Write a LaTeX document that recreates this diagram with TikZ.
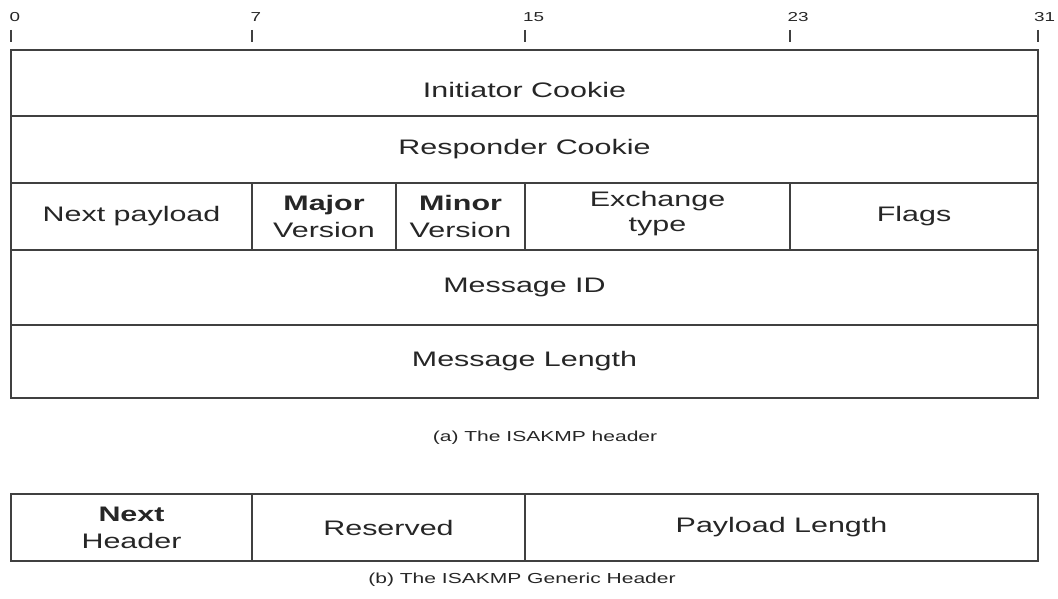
\documentclass[tikz,border=0pt]{standalone}
\usepackage{fontspec}
\setmainfont{Liberation Sans}[FakeStretch=1.45]
\begin{document}
\begin{tikzpicture}[x=1pt,y=-1pt,
  field/.style={draw=black!75, line width=1.4pt, rectangle, inner sep=0pt,
    text=black!85, font=\fontsize{21}{27}\selectfont, align=center},
  tickline/.style={draw=black!75, line width=1.2pt},
  bitlabel/.style={font=\fontsize{13}{15}\selectfont, text=black!85, inner sep=0pt, anchor=base west},
  captiontext/.style={font=\fontsize{14.5}{17}\selectfont, text=black!85, inner sep=0pt}]
\useasboundingbox (0,0) rectangle (1058,599);

% bit scale
\coordinate (t0a) at (11,30);   \coordinate (t0b) at (11,42);
\coordinate (t7a) at (252,30);  \coordinate (t7b) at (252,42);
\coordinate (t15a) at (525,30); \coordinate (t15b) at (525,42);
\coordinate (t23a) at (790,30); \coordinate (t23b) at (790,42);
\coordinate (t31a) at (1038,30);\coordinate (t31b) at (1038,42);
\foreach \t in {0,7,15,23,31} \draw[tickline] (t\t a) -- (t\t b);
\node[bitlabel] (l0) at (9.5,22) {0};
\node[bitlabel] (l7) at (250.5,22) {7};
\node[bitlabel] (l15) at (523,22) {15};
\node[bitlabel] (l23) at (787.5,22) {23};
\node[bitlabel] (l31) at (1034,22) {31};

% ISAKMP header
\node[field, minimum width=1027pt, minimum height=66pt] (ic) at (524.5,83)
  {\raisebox{-7pt}[\height][\depth]{Initiator Cookie}};
\node[field, minimum width=1027pt, minimum height=67pt] (rc) at (524.5,149.5) {Responder Cookie};
\node[field, minimum width=241pt, minimum height=67pt] (np) at (131.5,216.5) {Next payload};
\node[field, minimum width=144pt, minimum height=67pt] (maj) at (324,216.5) {\textbf{Major}\\Version};
\node[field, minimum width=129pt, minimum height=67pt] (min) at (460.5,216.5) {\textbf{Minor}\\Version};
\node[field, minimum width=265pt, minimum height=67pt] (ex) at (657.5,216.5) {\raisebox{3pt}[\height][\depth]{\begin{tabular}{@{}c@{}}Exchange\\[-2pt]type\end{tabular}}};
\node[field, minimum width=248pt, minimum height=67pt] (fl) at (914,216.5) {Flags};
\node[field, minimum width=1027pt, minimum height=75pt] (mid) at (524.5,287.5) {Message ID};
\node[field, minimum width=1027pt, minimum height=73pt] (ml) at (524.5,361.5) {Message Length};
\node[captiontext] (capa) at (545,438) {(a) The ISAKMP header};

% Generic header
\node[field, minimum width=241pt, minimum height=67pt] (nh) at (131.5,527.5) {\textbf{Next}\\Header};
\node[field, minimum width=273pt, minimum height=67pt] (rs) at (388.5,527.5) {Reserved};
\node[field, minimum width=513pt, minimum height=67pt] (pl) at (781.5,527.5) {Payload Length};
\node[captiontext] (capb) at (522,580) {(b) The ISAKMP Generic Header};
\end{tikzpicture}
\end{document}
